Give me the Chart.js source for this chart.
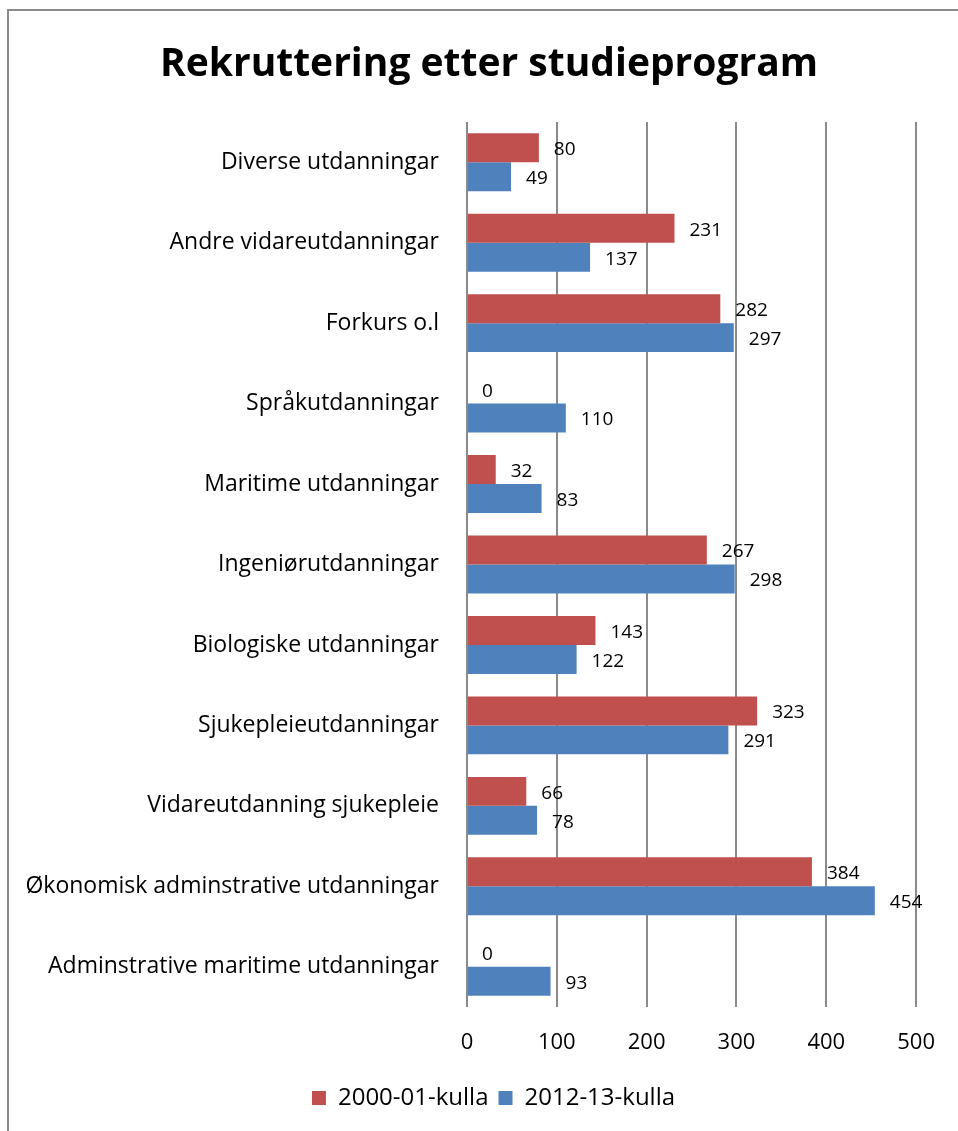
<!DOCTYPE html>
<html>
<head>
<meta charset="utf-8">
<script src="https://cdn.jsdelivr.net/npm/chart.js@4/dist/chart.umd.min.js"></script>
<style>
  html, body { margin: 0; padding: 0; background: #fff; }
  #wrap { position: relative; width: 958px; height: 1131px; overflow: hidden; }
  #frame { position: absolute; left: 7px; top: 9px; width: 1000px; height: 1200px; border: 2px solid #8a8a8a; }
  canvas { position: absolute; left: 0; top: 0; }
</style>
</head>
<body>
<div id="wrap">
  <div id="frame"></div>
  <canvas id="chart" width="958" height="1131"></canvas>
</div>
<script>
const categories = [
  'Diverse utdanningar',
  'Andre vidareutdanningar',
  'Forkurs o.l',
  'Språkutdanningar',
  'Maritime utdanningar',
  'Ingeniørutdanningar',
  'Biologiske utdanningar',
  'Sjukepleieutdanningar',
  'Vidareutdanning sjukepleie',
  'Økonomisk adminstrative utdanningar',
  'Adminstrative maritime utdanningar'
];
const kull2000 = [80, 231, 282, 0, 32, 267, 143, 323, 66, 384, 0];
const kull2012 = [49, 137, 297, 110, 83, 298, 122, 291, 78, 454, 93];
const xTicks = [0, 100, 200, 300, 400, 500];
const chartTitle = 'Rekruttering etter studieprogram';

const FONT = '"Open Sans", sans-serif';

// verdiane til høgre for kvar stolpe + tittelen midt i ramma
const valueLabels = {
  id: 'valueLabels',
  afterLayout(chart) {
    // forklaringa litt mot høgre, midt i ramma
    const lg = chart.legend;
    lg.left += 24;
    lg.right += 24;
    lg.adjustHitBoxes();
  },
  afterDatasetsDraw(chart) {
    const ctx = chart.ctx;
    ctx.save();
    ctx.font = '19px ' + FONT;
    ctx.fillStyle = '#000';
    ctx.textAlign = 'left';
    ctx.textBaseline = 'middle';
    chart.data.datasets.forEach((ds, i) => {
      chart.getDatasetMeta(i).data.forEach((bar, j) => {
        ctx.fillText(String(ds.data[j]), bar.x + 15, bar.y + 2);
      });
    });
    ctx.font = 'bold 39px ' + FONT;
    ctx.textAlign = 'center';
    ctx.fillText(chartTitle, 489, 65);
    ctx.restore();
  }
};

new Chart(document.getElementById('chart').getContext('2d'), {
  type: 'bar',
  data: {
    labels: categories,
    datasets: [
      { label: '2000-01-kulla', data: kull2000, backgroundColor: '#C0504D' },
      { label: '2012-13-kulla', data: kull2012, backgroundColor: '#4F81BD' }
    ]
  },
  options: {
    indexAxis: 'y',
    responsive: false,
    animation: false,
    layout: { padding: { left: 20, right: 39, top: 122, bottom: 11 } },
    datasets: { bar: { barPercentage: 1, categoryPercentage: 0.72 } },
    plugins: {
      legend: {
        position: 'bottom',
        labels: {
          color: '#000',
          font: { family: FONT, size: 24 },
          boxWidth: 14,
          boxHeight: 14,
          padding: 10
        }
      },
      tooltip: { enabled: false }
    },
    scales: {
      x: {
        min: 0,
        max: 500,
        afterBuildTicks: s => { s.ticks = xTicks.map(v => ({ value: v })); },
        afterFit: s => { s.height = 69; },
        grid: { color: '#8a8a8a', lineWidth: 2, drawTicks: false },
        border: { display: false },
        ticks: { color: '#000', font: { family: FONT, size: 22 }, padding: 23 }
      },
      y: {
        afterFit: s => { s.width = 447; },
        grid: { display: false },
        border: { display: false },
        ticks: { color: '#000', font: { family: FONT, size: 23 }, padding: 20 }
      }
    }
  },
  plugins: [valueLabels]
});
</script>
</body>
</html>
